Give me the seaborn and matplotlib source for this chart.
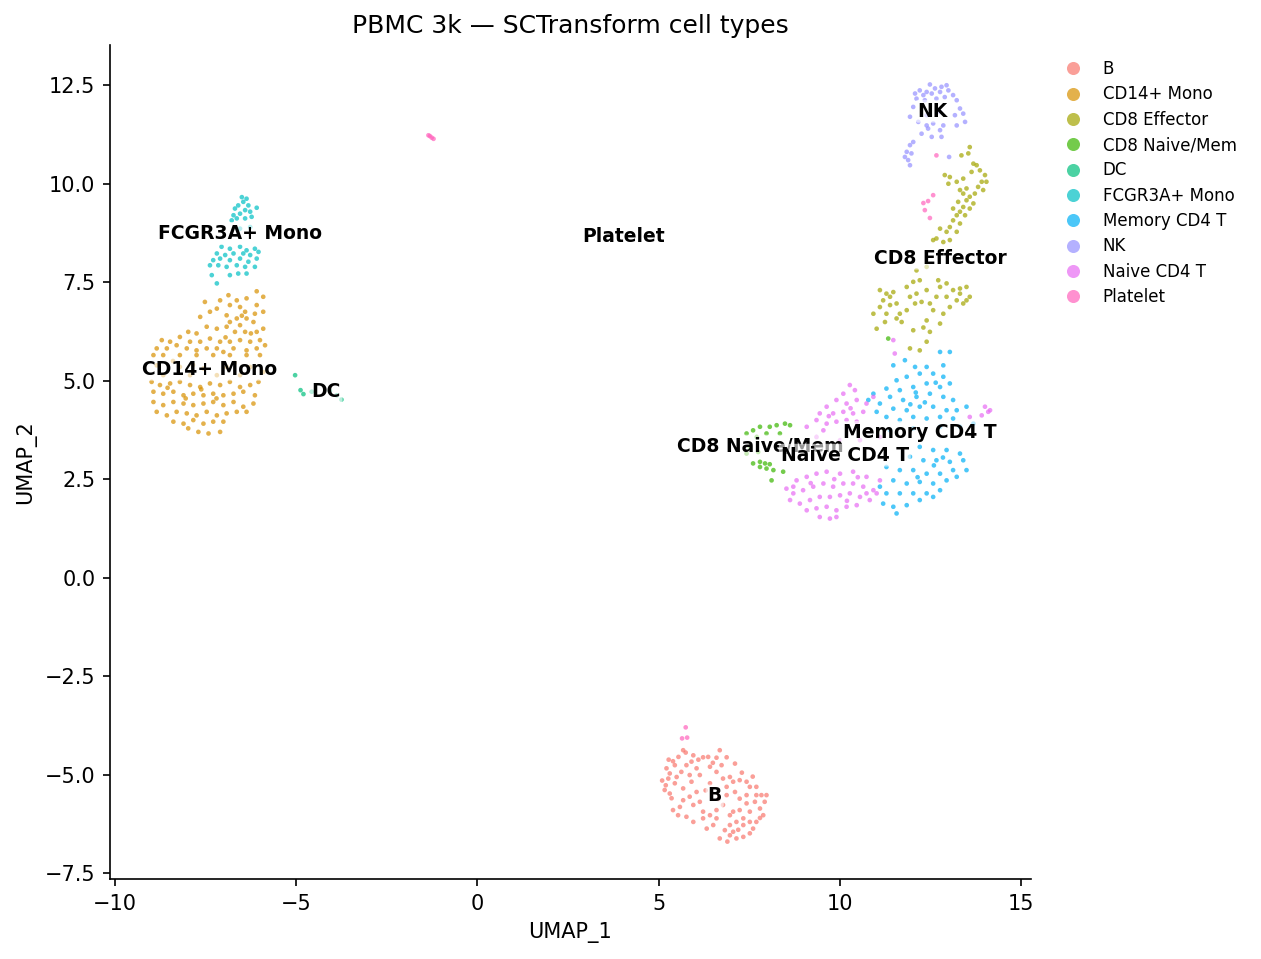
import pandas as pd
import matplotlib
matplotlib.use('Agg')
import matplotlib.pyplot as plt
import seaborn as sns

# cell type order (alphabetical, as in the legend)
cell_types = ['B', 'CD14+ Mono', 'CD8 Effector', 'CD8 Naive/Mem', 'DC',
              'FCGR3A+ Mono', 'Memory CD4 T', 'NK', 'Naive CD4 T', 'Platelet']
type_colors = ['#F8766D', '#D89000', '#A3A500', '#39B600', '#00BF7D',
               '#00BFC4', '#00B0F6', '#9590FF', '#E76BF3', '#FF62BC']

# UMAP coordinates, one list per cluster
b_cells = [
    (5.68, -4.38), (5.75, -4.44), (5.96, -4.51), (6.23, -4.56), (6.37, -4.55), (6.60, -4.57),
    (6.69, -4.38), (6.88, -4.56), (7.11, -4.72), (5.40, -4.66), (5.22, -4.84), (5.31, -4.97),
    (5.27, -5.10), (5.20, -5.27), (5.17, -5.39), (5.31, -5.48), (5.45, -5.22), (5.50, -5.06),
    (5.63, -4.93), (5.77, -4.76), (5.91, -4.67), (6.05, -4.84), (6.14, -5.01), (6.42, -4.80),
    (6.60, -4.93), (6.74, -4.76), (6.78, -5.10), (6.97, -5.06), (7.06, -5.18), (7.24, -5.14),
    (7.43, -5.18), (7.52, -5.31), (7.70, -5.31), (7.84, -5.52), (7.93, -5.69), (7.80, -5.86),
    (7.89, -6.03), (7.70, -6.20), (7.61, -6.37), (7.52, -6.49), (7.34, -6.58), (7.15, -6.62),
    (6.97, -6.54), (6.69, -6.62), (6.83, -6.41), (6.97, -6.28), (7.15, -6.20), (7.34, -6.11),
    (7.52, -5.94), (7.43, -5.73), (7.24, -5.61), (7.11, -5.44), (6.88, -5.52), (6.78, -5.77),
    (6.60, -5.90), (6.42, -6.03), (6.23, -6.11), (5.96, -6.20), (5.77, -6.07), (5.54, -6.03),
    (5.59, -5.82), (5.68, -5.65), (5.86, -5.56), (6.05, -5.44), (5.96, -5.77), (6.14, -5.69),
    (6.23, -5.94), (6.51, -6.28), (6.33, -6.37), (7.06, -5.94), (7.24, -5.90), (7.66, -5.69),
    (7.43, -5.52), (6.97, -6.03), (6.60, -6.11), (5.45, -4.76), (5.91, -5.18), (6.42, -5.22),
    (6.88, -5.31), (5.36, -5.60), (5.68, -5.35), (5.86, -5.01), (7.70, -5.52), (7.98, -5.52),
    (7.34, -6.28), (7.06, -6.45), (7.52, -6.20), (5.28, -4.62), (6.50, -4.70), (7.30, -4.95),
    (5.55, -4.55), (6.10, -4.62), (6.30, -5.40), (6.65, -5.62), (7.20, -6.40), (7.80, -6.10),
    (5.40, -5.90), (5.10, -5.15), (6.90, -6.70), (7.60, -5.05),
]
cd14_mono = [
    (-6.09, 7.27), (-5.91, 7.13), (-6.87, 7.17), (-7.10, 7.04), (-6.64, 7.04), (-6.37, 7.09),
    (-7.52, 7.00), (-6.83, 6.92), (-6.55, 6.87), (-6.09, 6.92), (-7.19, 6.83), (-6.41, 6.75),
    (-6.14, 6.70), (-5.91, 6.75), (-7.38, 6.75), (-6.92, 6.66), (-7.65, 6.62), (-6.64, 6.58),
    (-6.37, 6.58), (-6.83, 6.49), (-6.55, 6.41), (-6.18, 6.49), (-7.47, 6.37), (-7.19, 6.32),
    (-6.92, 6.37), (-6.69, 6.24), (-6.41, 6.24), (-6.09, 6.24), (-5.91, 6.32), (-7.98, 6.24),
    (-7.75, 6.20), (-8.21, 6.11), (-8.48, 5.99), (-8.71, 6.03), (-7.93, 5.99), (-7.65, 5.99),
    (-7.38, 6.07), (-7.10, 5.99), (-6.83, 5.99), (-6.55, 6.03), (-6.27, 5.99), (-6.00, 6.03),
    (-8.85, 5.82), (-8.57, 5.82), (-8.30, 5.90), (-8.02, 5.82), (-7.75, 5.77), (-7.47, 5.82),
    (-7.19, 5.82), (-7.01, 5.73), (-6.73, 5.82), (-6.37, 5.77), (-6.09, 5.82), (-5.86, 5.90),
    (-8.94, 5.65), (-8.67, 5.65), (-8.21, 5.65), (-7.75, 5.65), (-7.29, 5.65), (-6.83, 5.65),
    (-6.37, 5.65), (-6.00, 5.65), (-8.85, 5.39), (-8.21, 5.35), (-7.56, 5.31), (-6.92, 5.35),
    (-6.27, 5.35), (-8.67, 5.14), (-7.93, 5.14), (-7.19, 5.14), (-6.55, 5.14), (-5.91, 5.22),
    (-8.99, 4.97), (-8.76, 4.89), (-8.48, 4.93), (-8.21, 4.97), (-7.93, 4.89), (-7.65, 4.84),
    (-7.38, 4.93), (-7.10, 4.89), (-6.83, 4.97), (-6.55, 4.84), (-6.27, 4.89), (-6.04, 4.97),
    (-8.94, 4.72), (-8.67, 4.67), (-8.39, 4.72), (-8.11, 4.63), (-7.84, 4.67), (-7.56, 4.63),
    (-7.29, 4.67), (-7.01, 4.63), (-6.73, 4.67), (-6.46, 4.72), (-6.14, 4.63), (-8.94, 4.46),
    (-8.67, 4.38), (-8.39, 4.46), (-8.11, 4.42), (-7.84, 4.38), (-7.56, 4.42), (-7.29, 4.46),
    (-7.01, 4.38), (-6.73, 4.46), (-6.46, 4.34), (-6.18, 4.42), (-8.85, 4.21), (-8.57, 4.12),
    (-8.30, 4.21), (-8.02, 4.17), (-7.75, 4.12), (-7.47, 4.21), (-7.19, 4.12), (-6.92, 4.17),
    (-6.64, 4.21), (-6.37, 4.21), (-8.39, 3.96), (-8.11, 3.91), (-7.84, 4.00), (-7.56, 3.91),
    (-7.29, 3.96), (-7.01, 3.96), (-7.70, 3.70), (-7.42, 3.66), (-7.10, 3.70), (-7.98, 3.79),
    (-8.05, 4.55), (-7.62, 4.78), (-7.20, 4.55), (-8.55, 4.82), (-6.95, 6.10), (-6.50, 6.65),
    (-6.25, 6.20), (-7.85, 5.40), (-8.40, 5.50), (-6.70, 5.45),
]
cd8_effector = [
    (13.59, 10.93), (13.55, 10.77), (13.36, 10.72), (13.69, 10.51), (13.78, 10.47), (13.87, 10.34),
    (13.64, 10.30), (14.01, 10.22), (13.92, 10.05), (14.05, 10.05), (13.82, 9.92), (13.96, 9.84),
    (13.73, 9.75), (13.59, 9.67), (13.50, 9.58), (13.69, 9.50), (13.41, 9.41), (13.59, 9.37),
    (13.32, 9.29), (13.23, 9.20), (13.46, 9.20), (13.13, 9.07), (13.32, 8.99), (13.04, 8.90),
    (12.77, 8.86), (12.95, 8.78), (13.23, 8.78), (12.67, 8.61), (12.86, 8.52), (13.04, 8.57),
    (12.58, 8.57), (13.23, 10.05), (13.00, 10.00), (12.90, 10.22), (13.04, 10.17), (13.41, 10.13),
    (13.32, 9.84), (13.27, 9.54), (13.13, 9.37), (13.41, 9.75), (13.50, 9.88),
    (11.11, 7.30), (11.29, 7.21), (11.20, 7.04), (11.39, 7.13), (11.48, 7.25), (11.57, 6.96),
    (11.11, 6.87), (10.93, 6.70), (11.29, 6.70), (11.66, 6.70), (11.02, 6.32), (11.57, 6.58),
    (11.85, 6.79), (11.94, 7.13), (11.85, 7.38), (12.03, 7.51), (12.21, 7.55), (12.12, 7.21),
    (12.40, 7.30), (12.26, 7.00), (12.49, 6.96), (12.67, 7.13), (12.77, 7.38), (12.95, 7.47),
    (13.13, 7.30), (13.32, 7.34), (13.50, 7.38), (13.59, 7.13), (13.41, 6.96), (13.23, 7.04),
    (13.04, 6.87), (12.86, 6.70), (12.77, 6.45), (12.40, 6.53), (12.31, 6.35), (12.03, 6.28),
    (12.40, 5.99), (12.21, 5.77), (11.94, 5.82), (12.49, 6.24), (12.72, 7.55), (12.58, 6.79),
    (12.95, 7.13), (13.32, 7.21), (13.50, 7.04), (11.71, 6.49), (12.08, 6.96), (11.39, 6.92),
    (11.25, 6.49), (12.12, 7.80), (12.40, 7.89),
]
cd8_naive_mem = [
    (7.43, 3.66), (7.61, 3.74), (7.80, 3.83), (8.07, 3.83), (8.26, 3.87), (8.49, 3.91),
    (8.63, 3.87), (7.71, 3.57), (7.98, 3.66), (8.35, 3.66), (7.61, 2.90), (7.80, 2.94),
    (7.94, 2.90), (8.07, 2.88), (7.80, 2.81), (8.17, 2.73), (8.44, 2.69), (8.12, 2.47),
    (7.98, 2.77), (7.52, 3.32), (7.75, 3.19), (7.43, 3.15), (11.34, 6.07),
]
dc = [(-5.03, 5.14), (-4.88, 4.76), (-4.80, 4.66), (-4.57, 4.72), (-4.07, 4.74),
      (-3.88, 4.63), (-3.75, 4.52)]
fcgr3a_mono = [
    (-6.50, 9.66), (-6.37, 9.62), (-6.46, 9.54), (-6.60, 9.45), (-6.32, 9.45), (-6.69, 9.37),
    (-6.41, 9.33), (-6.55, 9.24), (-6.27, 9.29), (-6.73, 9.20), (-6.09, 9.39), (-6.64, 9.12),
    (-6.41, 9.12), (-6.23, 9.16), (-6.78, 9.07), (-6.55, 8.86), (-6.27, 8.90), (-7.06, 8.40),
    (-6.83, 8.35), (-6.55, 8.40), (-6.37, 8.31), (-6.14, 8.35), (-7.19, 8.23), (-6.96, 8.19),
    (-6.73, 8.23), (-6.46, 8.23), (-6.27, 8.19), (-7.29, 8.06), (-7.10, 8.10), (-6.83, 8.06),
    (-6.55, 8.10), (-6.32, 8.02), (-6.09, 8.10), (-7.38, 7.93), (-7.15, 7.93), (-6.92, 7.89),
    (-6.64, 7.93), (-6.41, 7.89), (-6.14, 7.89), (-7.33, 7.68), (-7.19, 7.47), (-6.83, 7.68),
    (-6.60, 7.72), (-6.37, 7.72), (-6.04, 8.27),
]
memory_cd4 = [
    (11.80, 5.52), (11.48, 5.39), (12.08, 5.35), (12.40, 5.35), (12.86, 5.39), (13.04, 5.73),
    (12.77, 5.73), (12.21, 5.18), (12.58, 5.18), (12.86, 5.10), (11.85, 5.10), (11.57, 5.01),
    (11.29, 4.80), (11.66, 4.76), (12.03, 4.84), (12.40, 4.93), (12.77, 4.84), (13.04, 4.93),
    (11.39, 4.59), (11.75, 4.51), (12.12, 4.59), (12.49, 4.67), (12.86, 4.59), (13.13, 4.51),
    (11.11, 4.42), (11.48, 4.29), (11.85, 4.25), (12.21, 4.34), (12.58, 4.34), (12.95, 4.25),
    (13.23, 4.25), (13.50, 4.34), (11.29, 4.08), (11.66, 4.00), (12.03, 4.08), (12.40, 4.04),
    (12.77, 4.08), (13.13, 4.04), (11.02, 4.21), (10.79, 4.51), (10.93, 4.67), (11.39, 3.74),
    (12.03, 3.79), (12.77, 3.83), (13.32, 3.83), (13.69, 3.91), (12.21, 3.32), (12.58, 3.24),
    (12.95, 3.24), (13.32, 3.15), (11.94, 3.07), (12.31, 2.98), (12.67, 2.98), (13.04, 2.94),
    (13.41, 2.98), (13.50, 2.73), (11.29, 2.81), (11.66, 2.73), (12.03, 2.73), (12.40, 2.64),
    (12.77, 2.64), (13.13, 2.73), (11.48, 2.47), (11.85, 2.39), (12.21, 2.43), (12.58, 2.39),
    (12.95, 2.47), (13.23, 2.56), (11.29, 2.14), (11.66, 2.14), (12.03, 2.14), (12.40, 2.14),
    (12.77, 2.22), (11.20, 1.88), (11.48, 1.80), (11.85, 1.84), (12.21, 1.97), (12.58, 2.05),
    (11.57, 1.63), (11.11, 2.31), (12.10, 4.70), (12.65, 4.95), (11.95, 4.40), (12.35, 4.45),
    (12.60, 2.85), (12.15, 2.55), (12.85, 3.05),
]
nk = [
    (12.49, 12.52), (12.21, 12.37), (12.40, 12.33), (12.63, 12.42), (12.81, 12.46), (12.95, 12.50),
    (12.08, 12.29), (12.31, 12.25), (12.54, 12.29), (12.77, 12.33), (13.00, 12.37), (13.13, 12.25),
    (12.12, 12.16), (12.35, 12.12), (12.67, 12.16), (12.90, 12.20), (13.23, 12.12), (12.03, 11.95),
    (13.32, 11.91), (13.41, 11.78), (13.18, 11.74), (11.94, 11.70), (12.40, 11.74), (12.77, 11.82),
    (12.17, 11.57), (12.40, 11.48), (12.58, 11.53), (12.86, 11.48), (13.23, 11.48), (13.46, 11.57),
    (12.26, 11.27), (12.54, 11.19), (12.81, 11.19), (12.77, 11.36), (12.44, 11.40), (11.94, 10.98),
    (12.03, 11.06), (11.85, 10.81), (11.80, 10.68), (11.89, 10.60), (11.94, 10.47), (11.98, 10.77),
    (13.02, 10.68),
]
naive_cd4 = [
    (10.28, 4.89), (10.42, 4.76), (10.10, 4.67), (9.91, 4.51), (10.19, 4.42), (10.47, 4.51),
    (10.74, 4.42), (10.93, 4.59), (9.64, 4.34), (9.45, 4.17), (9.82, 4.17), (10.10, 4.21),
    (10.37, 4.17), (10.65, 4.21), (9.36, 4.00), (9.64, 3.91), (9.91, 3.96), (10.19, 4.00),
    (10.47, 3.96), (9.55, 3.74), (9.09, 3.83), (9.36, 3.57), (10.01, 3.49), (10.56, 3.49),
    (11.11, 3.57), (8.53, 2.26), (8.81, 2.47), (9.09, 2.56), (9.36, 2.64), (9.64, 2.69),
    (10.01, 2.64), (10.37, 2.69), (10.74, 2.56), (11.11, 2.47), (8.72, 2.14), (8.99, 2.22),
    (9.27, 2.31), (9.55, 2.39), (9.82, 2.31), (10.10, 2.39), (10.37, 2.39), (10.65, 2.31),
    (10.93, 2.22), (8.90, 1.88), (9.18, 1.97), (9.45, 2.05), (9.73, 2.05), (10.01, 2.09),
    (10.28, 2.14), (10.56, 2.05), (10.83, 1.97), (9.09, 1.71), (9.36, 1.76), (9.64, 1.80),
    (9.91, 1.71), (10.19, 1.80), (10.47, 1.84), (9.73, 1.50), (9.91, 1.54), (9.45, 1.54),
    (10.74, 2.14), (11.02, 2.14), (8.63, 1.97), (8.72, 2.31), (14.01, 4.34), (14.10, 4.21),
    (13.92, 4.12), (14.15, 4.25), (13.59, 4.08), (11.52, 5.69), (11.48, 6.03),
    (9.70, 4.10), (10.30, 4.30), (9.20, 2.40), (9.85, 2.50), (10.50, 2.55), (10.20, 1.95),
]
platelet = [
    (-1.35, 11.23), (-1.31, 11.21), (-1.26, 11.17), (-1.21, 11.14),
    (12.67, 10.72), (12.58, 9.71), (12.31, 9.51), (12.44, 9.56), (12.35, 9.33), (12.49, 9.13),
    (5.75, -3.80), (5.65, -4.08), (5.79, -4.06),
]

# where the cluster names sit
label_x = [6.55, -7.38, 12.77, 7.80, -4.18, -6.55, 12.21, 12.57, 10.14, 4.04]
label_y = [-5.54, 5.29, 8.11, 3.34, 4.73, 8.74, 3.69, 11.84, 3.11, 8.67]

clusters = [b_cells, cd14_mono, cd8_effector, cd8_naive_mem, dc,
            fcgr3a_mono, memory_cd4, nk, naive_cd4, platelet]
rows = [(ct, x, y) for ct, pts in zip(cell_types, clusters) for x, y in pts]
df = pd.DataFrame(rows, columns=['cell_type', 'UMAP_1', 'UMAP_2'])

fig = plt.figure(figsize=(1261 / 150, 959 / 150), dpi=150)
ax = fig.add_axes([0.0872, 0.0834, 0.7304, 0.8696])

sns.scatterplot(data=df, x='UMAP_1', y='UMAP_2', hue='cell_type', hue_order=cell_types,
                palette=type_colors, s=5, linewidth=0, alpha=0.7, ax=ax)

for ct, lx, ly in zip(cell_types, label_x, label_y):
    ax.text(lx, ly, ct, fontsize=9, fontweight='bold', ha='center', va='center',
            bbox=dict(boxstyle='round,pad=0.1', fc='white', ec='none', alpha=0.6))

ax.set_xlim(-10.14, 15.28)
ax.set_ylim(-7.65, 13.52)
ax.set_title('PBMC 3k — SCTransform cell types')
sns.despine(ax=ax)

handles, labels = ax.get_legend_handles_labels()
ax.legend(handles, labels, bbox_to_anchor=(1.02, 0.99), loc='upper left', borderaxespad=0,
          frameon=False, fontsize=8, markerscale=2.8, labelspacing=0.44)

fig.savefig('out.png', dpi=150)
